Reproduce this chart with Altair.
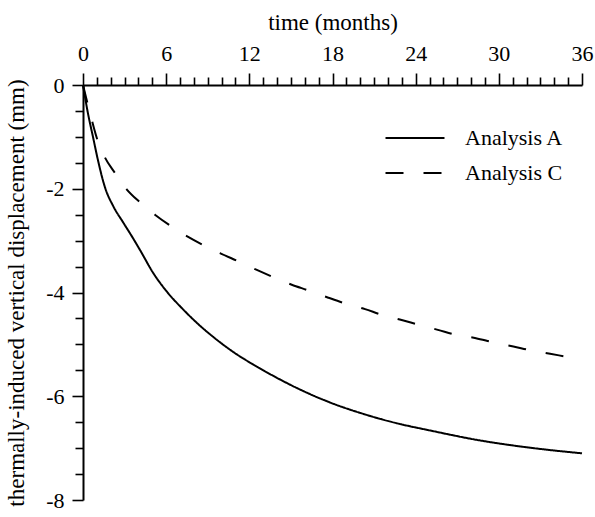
import altair as alt
import pandas as pd

# Analysis A (solid)
t_a = [0, 0.36, 0.72, 1.08, 1.57, 2.19, 2.9, 3.6, 4.11, 5.08, 6.04, 7.2, 8.44, 9.6,
       10.7, 13.01, 15.42, 17.82, 20.22, 22.63, 25.04, 28.6, 31.05, 33.45, 36.0]
v_a = [0, -0.55, -1.0, -1.45, -1.96, -2.34, -2.65, -2.95, -3.18, -3.63, -3.98, -4.32, -4.64, -4.90,
       -5.12, -5.50, -5.84, -6.12, -6.34, -6.52, -6.66, -6.85, -6.95, -7.03, -7.10]

# Analysis C (dashed)
t_c = [0, 0.65, 1.03, 1.57, 2.29, 3.15, 4.06, 5.19, 6.23, 7.52, 8.63, 9.88, 11.2, 12.5,
       13.7, 15.06, 16.26, 17.7, 18.9, 20.35, 21.55, 22.99, 24.2, 25.6, 26.95, 28.35,
       29.6, 31.05, 32.4, 33.7, 35.1, 36.0]
v_c = [0, -0.69, -1.05, -1.39, -1.69, -2.01, -2.25, -2.50, -2.70, -2.92, -3.08, -3.24, -3.40, -3.56,
       -3.70, -3.85, -3.96, -4.10, -4.21, -4.32, -4.43, -4.53, -4.62, -4.72, -4.82, -4.88,
       -4.96, -5.04, -5.12, -5.18, -5.25, -5.29]

series_names = ["Analysis A", "Analysis C"]
x_ticks = list(range(0, 37))
y_ticks = [-8 + 0.5 * i for i in range(17)]

df = pd.concat([
    pd.DataFrame({"t": t_a, "v": v_a, "series": series_names[0]}),
    pd.DataFrame({"t": t_c, "v": v_c, "series": series_names[1]}),
])

FONT = "Liberation Serif"

chart = alt.Chart(df).mark_line(strokeWidth=2, color="black", interpolate="monotone").encode(
    x=alt.X("t:Q", title="time (months)",
            scale=alt.Scale(domain=[0, 36], nice=False, zero=False),
            axis=alt.Axis(orient="top", values=x_ticks, grid=False,
                          labelExpr="datum.value % 6 === 0 ? datum.label : ''",
                          tickSize={"condition": {"test": "datum.value % 6 === 0", "value": 12}, "value": 8},
                          labelOverlap=False, labelFlush=False,
                          labelPadding=8, titlePadding=8)),
    y=alt.Y("v:Q", title="thermally-induced vertical displacement (mm)",
            scale=alt.Scale(domain=[-8, 0], nice=False, zero=False),
            axis=alt.Axis(orient="left", values=y_ticks, grid=False,
                          labelExpr="datum.value % 2 === 0 ? '' + datum.value : ''",
                          tickSize={"condition": {"test": "datum.value % 2 === 0", "value": 11}, "value": 8},
                          labelOverlap=False, labelFlush=False,
                          labelPadding=8, titlePadding=17)),
    strokeDash=alt.StrokeDash("series:N",
                              scale=alt.Scale(domain=series_names, range=[[1, 0], [18, 20]]),
                              legend=alt.Legend(title=None, orient="none", legendX=316, legendY=37,
                                                symbolType="M-2,0H2", symbolSize=870,
                                                symbolStrokeWidth=2, symbolStrokeColor="black",
                                                labelFont=FONT, labelFontSize=22, labelColor="black",
                                                labelOffset=34, rowPadding=8, padding=0)),
).properties(
    width=499, height=415,
    autosize=alt.AutoSizeParams(type="none"),
    padding={"left": 83, "top": 85, "right": 13, "bottom": 17},
).configure_view(stroke=None).configure_axis(
    domainColor="black", domainWidth=2, tickColor="black", tickWidth=1.6,
    labelFont=FONT, labelFontSize=22, labelColor="black",
    titleFont=FONT, titleFontSize=23, titleFontWeight="normal", titleColor="black",
)

chart.save("out.html", embed_options={"renderer": "svg", "actions": False})
